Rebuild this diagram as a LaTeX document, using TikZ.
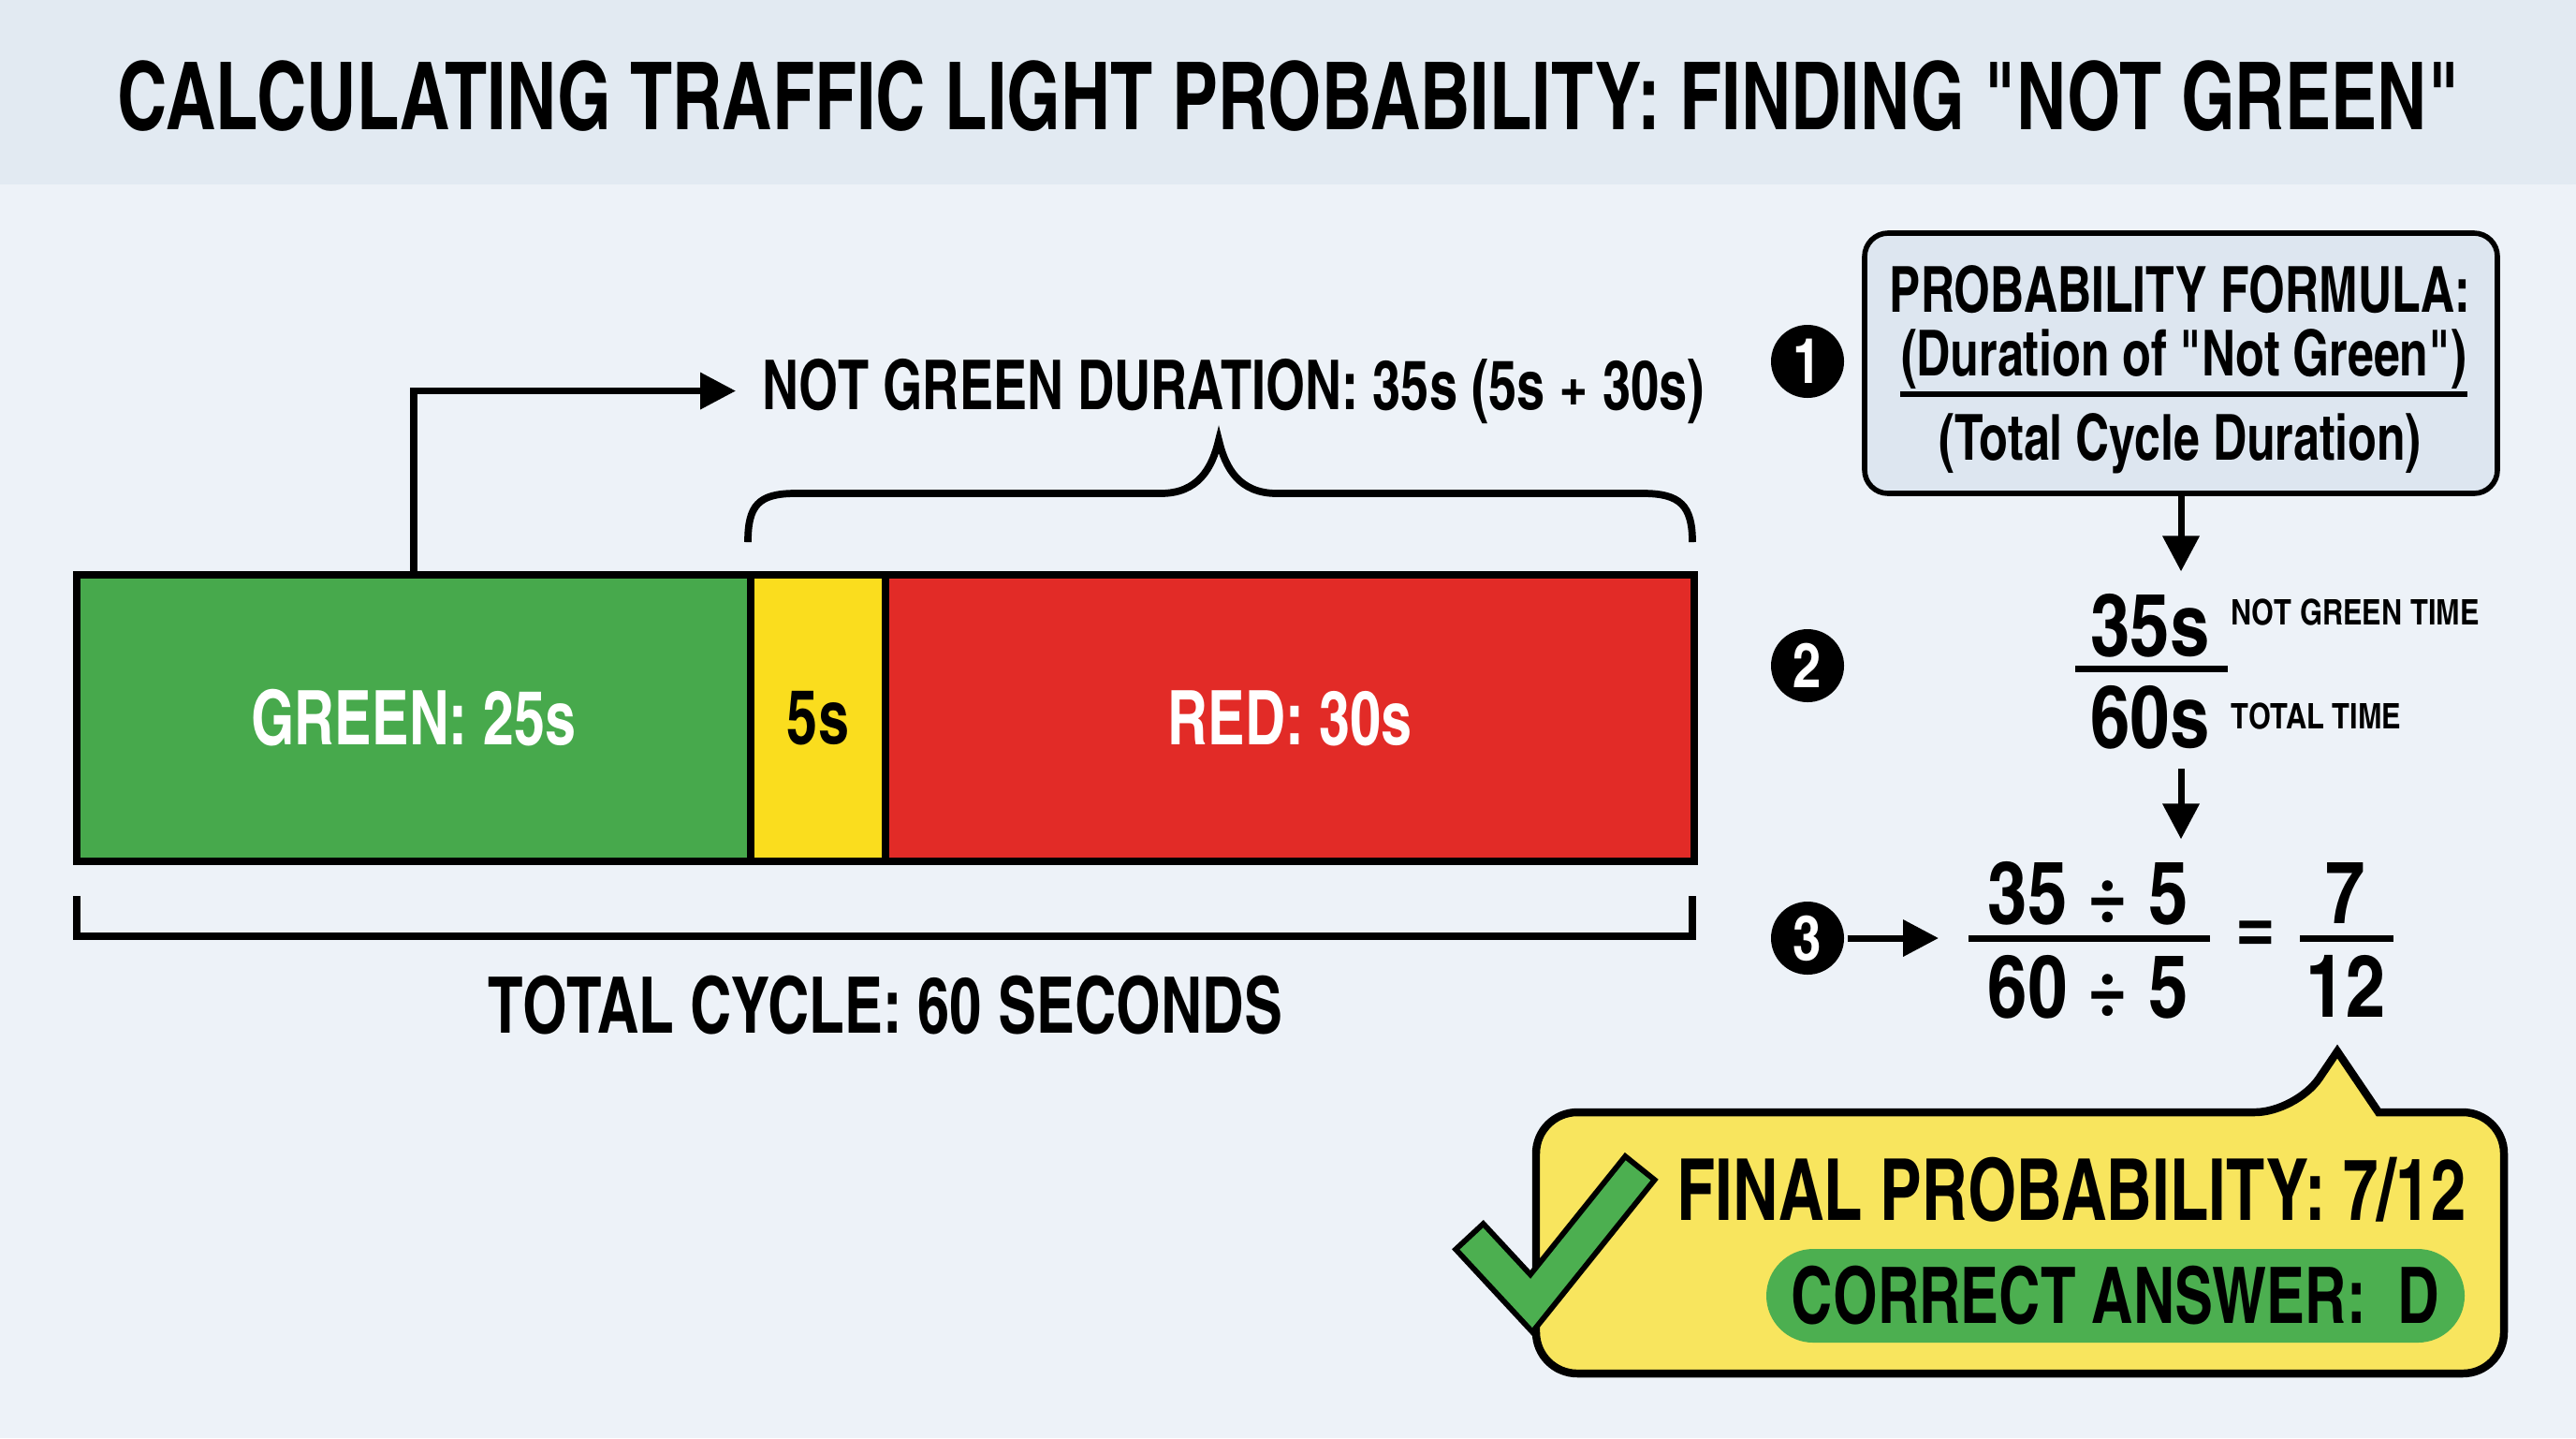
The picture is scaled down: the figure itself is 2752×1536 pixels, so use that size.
\documentclass[tikz,border=0pt]{standalone}
\usepackage{fontspec}
\newfontfamily\heavy{texgyreheroscn-bold}[Extension=.otf, FakeStretch=0.9]
\newfontfamily\heavywide{texgyreheroscn-bold}[Extension=.otf]
\usepackage{xcolor}
\usetikzlibrary{positioning,arrows.meta}

\definecolor{pagebg}{HTML}{EDF2F8}
\definecolor{bandbg}{HTML}{E2EAF2}
\definecolor{lightgreen}{HTML}{47A94C}
\definecolor{lightyellow}{HTML}{FADD1E}
\definecolor{lightred}{HTML}{E22B27}
\definecolor{formulabg}{HTML}{DDE6F0}
\definecolor{calloutbg}{HTML}{F8E55E}
\definecolor{pillgreen}{HTML}{4CAF50}

\begin{document}
\begin{tikzpicture}[x=0.1mm, y=-0.1mm, line width=2pt,
  lbl/.style={inner sep=0pt, font=\heavy\fontsize{#1}{#1}\selectfont},
  digits/.style={inner sep=0pt, font=\heavywide\fontsize{#1}{#1}\selectfont},
  seg/.style={draw, line width=2.4pt, minimum height=30.6mm, inner sep=0pt, font=\heavy\fontsize{22.9}{23}\selectfont},
  stepnum/.style={circle, fill=black, text=white, minimum size=7.8mm, inner sep=0pt, font=\heavywide\fontsize{19}{19}\selectfont},
  arr/.style={-{Triangle[length=3.8mm, width=3.8mm]}, line width=2pt}]
\useasboundingbox (0,0) rectangle (2752,1536);
\fill[pagebg] (0,0) rectangle (2752,1536);
\fill[bandbg] (0,0) rectangle (2752,197);

% title
\node[lbl=28.5, anchor=base] (title) at (1377,138) {CALCULATING TRAFFIC LIGHT PROBABILITY: FINDING "NOT GREEN"};

% the light cycle bar
\node[seg, fill=lightgreen, text=white, minimum width=72mm] (gseg) at (442,767) {GREEN: 25s};
\node[seg, fill=lightyellow, minimum width=14.4mm] (yseg) at (874,767) {5s};
\node[seg, fill=lightred, text=white, minimum width=86.4mm] (rseg) at (1378,767) {RED: 30s};

\node[lbl=20.9, anchor=base west] (ngtxt) at (811,437) {NOT GREEN DURATION: 35s (5s + 30s)};
\draw[arr, shorten >=2.5mm] (gseg.north) |- (ngtxt.west);
\draw[line width=2.2pt] (799,579) .. controls (799,540) and (810,527) .. (850,527) -- (1240,527)
  .. controls (1280,527) and (1295,500) .. (1302,470) .. controls (1309,500) and (1324,527) .. (1364,527)
  -- (1755,527) .. controls (1795,527) and (1808,540) .. (1808,579);

\draw[line width=2.2pt] (82,957) -- (82,1000) -- (1808,1000) -- (1808,957);
\node[lbl=23.7, anchor=base] (total) at (946,1103) {TOTAL CYCLE: 60 SECONDS};

% step 1
\node[stepnum] (c1) at (1931,386) {1};
\node[draw, fill=formulabg, line width=1.6pt, rounded corners=2.5mm, minimum width=67.6mm, minimum height=27.8mm] (fbox) at (2330,388) {};
\node[lbl=19.3, anchor=base] (ftitle) at (2329,333) {PROBABILITY FORMULA:};
\node[lbl=19.3, anchor=base] (fnum) at (2333,401) {(Duration of "Not Green")};
\node[lbl=19.3, anchor=base] (fden) at (2329,491) {(Total Cycle Duration)};
\draw[line width=1.5pt] (2030,421) -- (2636,421);

% step 2
\node[stepnum] (c2) at (1931,711) {2};
\node[digits=26.5, anchor=base] (num2) at (2297,700) {35s};
\node[digits=26.5, anchor=base] (den2) at (2297,798) {60s};
\draw[line width=2pt] (2217,714) -- (2380,714);
\node[digits=10.7, anchor=base west] (toplbl) at (2380,667) {NOT GREEN TIME};
\node[digits=10.7, anchor=base west] (botlbl) at (2380,778) {TOTAL TIME};
\draw[arr, shorten >=2mm] (fbox.south) -- (fbox.south |- num2.north);

% step 3
\node[stepnum] (c3) at (1931,1002) {3};
\node[digits=26.5, anchor=base] (num3) at (2231,986) {35 ÷ 5};
\node[digits=26.5, anchor=base] (den3) at (2231,1086) {60 ÷ 5};
\coordinate (r3l) at (2103,1002);
\draw[line width=2pt] (r3l) -- (2361,1002);
\node[digits=26.5] (eq) at (2410,1002) {=};
\node[digits=26.5, anchor=base] (num4) at (2506,986) {7};
\node[digits=26.5, anchor=base] (den4) at (2506,1086) {12};
\draw[line width=2pt] (2457,1002) -- (2557,1002);
\draw[arr, shorten <=1.8mm, shorten >=2mm] (fbox.south |- den2.south) -- (fbox.south |- num3.north);
\draw[arr, shorten >=3.2mm] (c3.east) -- (r3l);

% answer callout
\draw[fill=calloutbg, line width=2.4pt] (2453,1188) [sharp corners] -- (2497,1123) -- (2541,1188)
  [rounded corners=4.4mm] -- (2675,1188) -- (2675,1467) -- (1641,1467) -- (1641,1188) -- cycle;
\draw[line width=4.6mm, line join=miter, shorten <=-0.6mm, shorten >=-0.6mm] (1572,1323) -- (1636,1392) -- (1750,1250);
\draw[pillgreen, line width=3.4mm, line join=miter] (1572,1323) -- (1636,1392) -- (1750,1250);
\node[lbl=26, anchor=base] (final) at (2213,1303) {FINAL PROBABILITY: 7/12};
\node[fill=pillgreen, rounded corners=5mm, minimum width=74.6mm, minimum height=10mm, inner sep=0pt,
  font=\heavy\fontsize{23.7}{24}\selectfont] (answer) at (2260,1384) {CORRECT ANSWER:\ \ D};
\end{tikzpicture}
\end{document}
